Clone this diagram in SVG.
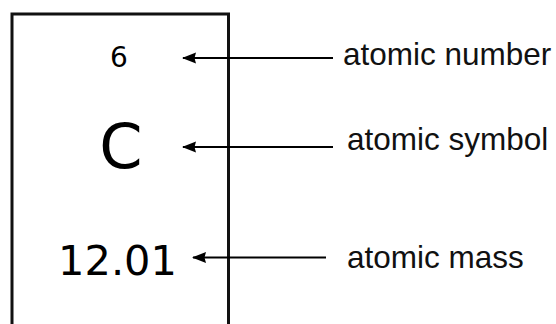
<svg xmlns="http://www.w3.org/2000/svg" width="556" height="324" viewBox="0 0 556 324">
<defs>
<marker id="ah" viewBox="0 0 14 12" refX="13" refY="6" markerWidth="14" markerHeight="12" markerUnits="userSpaceOnUse" orient="auto">
<path d="M14,6 L0,0.5 L1.5,6 L0,11.5 Z" fill="#000"/>
</marker>
<style>
.num{font-family:"DejaVu Sans",Verdana,sans-serif;fill:#000;text-anchor:middle}
.lbl{font-family:"Liberation Sans",Arial,sans-serif;font-size:31.5px;fill:#111}
.conn line{stroke:#000;stroke-width:2}
</style>
</defs>
<rect width="556" height="324" fill="#fff"/>
<g id="tile">
<rect x="12" y="14" width="216.5" height="330" fill="#fff" stroke="#111" stroke-width="3"/>
<text class="num" x="119" y="67" font-size="28">6</text>
<text class="num" x="121" y="168" font-size="62">C</text>
<text class="num" x="117.5" y="275" font-size="41.5">12.01</text>
</g>
<g class="conn">
<line x1="333" y1="58" x2="183" y2="58" marker-end="url(#ah)"/>
<line x1="333" y1="147" x2="183" y2="147" marker-end="url(#ah)"/>
<line x1="326" y1="257.5" x2="193" y2="257.5" marker-end="url(#ah)"/>
</g>
<g id="label-number"><text class="lbl" x="343" y="65">atomic number</text></g>
<g id="label-symbol"><text class="lbl" x="347" y="150">atomic symbol</text></g>
<g id="label-mass"><text class="lbl" x="347" y="268">atomic mass</text></g>
</svg>
